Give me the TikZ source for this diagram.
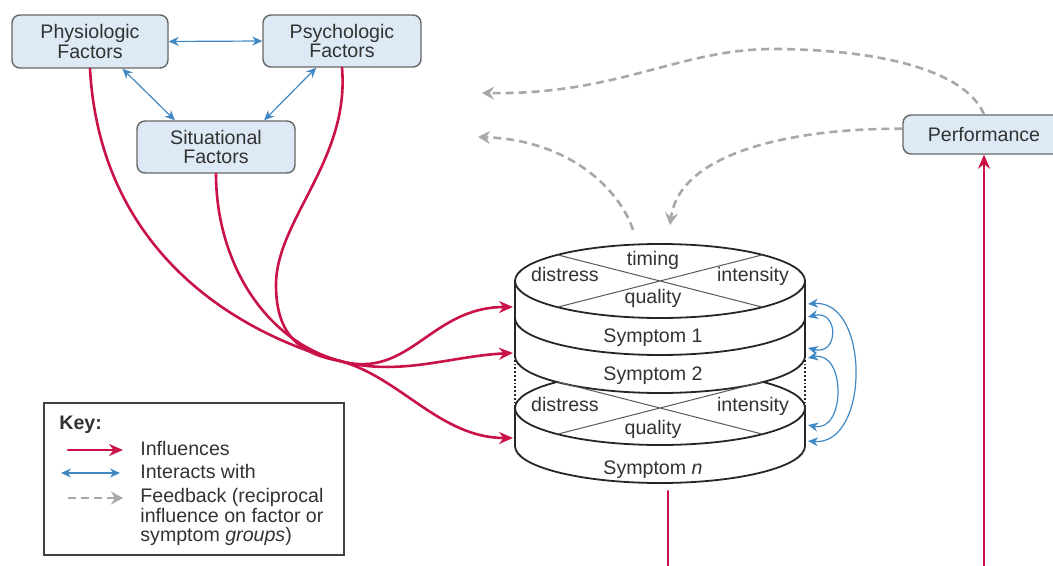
\documentclass[tikz,border=0pt]{standalone}
\usepackage{fontspec}
\setmainfont{Liberation Sans}
\usetikzlibrary{arrows.meta}

\definecolor{inflred}{RGB}{200,18,72}
\definecolor{interblue}{RGB}{64,136,196}
\definecolor{fbgray}{RGB}{168,168,168}
\definecolor{boxblue}{RGB}{221,234,245}
\definecolor{txtgray}{RGB}{50,50,50}
\newcommand{\dfont}{\fontsize{9.8}{9.7}\selectfont}

\tikzset{
  factor/.style={draw=black!60, line width=0.7pt, fill=boxblue, rounded corners=4pt, align=center, text=txtgray, font=\dfont, inner sep=1pt},
  influ/.style={inflred, line width=1.3pt, line cap=round},
  influence/.style={influ, -{Stealth[length=7pt,width=6pt]}},
  interact/.style={interblue, line width=0.6pt, {Stealth[length=5pt,width=4.5pt]}-{Stealth[length=5pt,width=4.5pt]}},
  feedback/.style={fbgray, line width=1.3pt, dash pattern=on 4pt off 2.5pt, -{Stealth[length=6pt,width=6.5pt,inset=2pt]}},
  lbl/.style={text=txtgray, font=\dfont, inner sep=0pt, text height=7pt, text depth=2pt},
  cylline/.style={black!85, line width=0.9pt},
  chord/.style={black!65, line width=0.5pt},
}

\begin{document}
\begin{tikzpicture}[x=0.5pt, y=0.5pt]
\clip (0,0) rectangle (1053,-566);

% factor boxes
\node (phys) at (90,-41.5) [factor, minimum width=78pt, minimum height=26.5pt] {Physiologic\\Factors};
\node (psych) at (342,-41) [factor, minimum width=79pt, minimum height=26pt] {Psychologic\\Factors};
\node (situ) at (216,-147) [factor, minimum width=79pt, minimum height=26pt] {Situational\\Factors};
\node (perf) at (984,-134.5) [factor, minimum width=81pt, minimum height=19.5pt] {Performance};

% interactions between factors
\draw[interact] (phys.east) -- (psych.west);
\draw[interact] (phys.-40) -- (situ.147);
\draw[interact] (psych.-134) -- (situ.29);

% symptom stack
\draw[cylline] (515,-281) -- (515,-356) (805,-281) -- (805,-356)
  (515,-408) -- (515,-446) (805,-408) -- (805,-446);
\draw[cylline, densely dotted] (515,-356) -- (515,-408) (805,-356) -- (805,-408);
\draw[cylline] (660,-281) ellipse [x radius=145, y radius=37];
\draw[cylline] (515,-318) arc [start angle=180, end angle=360, x radius=145, y radius=37];
\draw[cylline] (515,-356) arc [start angle=180, end angle=360, x radius=145, y radius=37];
\draw[cylline] (515,-408) arc [start angle=180, end angle=135, x radius=145, y radius=37]
  (805,-408) arc [start angle=0, end angle=45, x radius=145, y radius=37];
\draw[cylline] (515,-408) arc [start angle=180, end angle=360, x radius=145, y radius=37];
\draw[cylline] (515,-446) arc [start angle=180, end angle=360, x radius=145, y radius=37];
\draw[chord] (660,-281) +(135:145 and 37) -- +(-45:145 and 37) +(45:145 and 37) -- +(-135:145 and 37);
\draw[chord] (660,-408) +(135:145 and 37) -- +(-45:145 and 37) +(45:145 and 37) -- +(-135:145 and 37);

\node (tim1) at (653,-261) [lbl] {timing};
\node (dis1) at (565,-277) [lbl] {distress};
\node (int1) at (753,-277) [lbl] {intensity};
\node (qua1) at (653,-299) [lbl] {quality};
\node (sym1) at (653,-338) [lbl] {Symptom 1};
\node (sym2) at (653,-375) [lbl] {Symptom 2};
\node (dis2) at (565,-406) [lbl] {distress};
\node (int2) at (753,-406) [lbl] {intensity};
\node (qua2) at (653,-429) [lbl] {quality};
\node (symn) at (653,-469) [lbl] {Symptom \textit{n}};

% influences
\coordinate (mrg) at (340,-361);
\coordinate (in1) at (513,-307);
\coordinate (in2) at (513,-353);
\coordinate (in3) at (513,-438);
\draw[influ] (phys.south) .. controls (100,-250) and (234,-332) .. (mrg);
\draw[influ] (situ.south) .. controls (216,-260) and (263,-340) .. (mrg);
\draw[influ] (psych.south) .. controls (350,-160) and (276,-220) .. (276,-285) .. controls (276,-335) and (300,-354) .. (mrg);
\draw[influence] (mrg) .. controls (410,-380) and (430,-307) .. (in1);
\draw[influence] (mrg) .. controls (400,-377) and (450,-356) .. (in2);
\draw[influence] (mrg) .. controls (400,-377) and (440,-438) .. (in3);

\coordinate (symout) at (668,-491);
\coordinate (low) at (668,-620);
\draw[influence] (symout) -- (low) -| (perf.south);

% interactions between symptoms
\coordinate (s1a) at (808,-304);
\coordinate (s1b) at (808,-317);
\coordinate (s2a) at (808,-348);
\coordinate (s2b) at (808,-358);
\coordinate (sna) at (808,-425);
\coordinate (snb) at (808,-441);
\draw[interact] (s1a) .. controls +(62,5) and +(62,-5) .. (snb);
\draw[interact] (s1b) .. controls +(31,8) and +(31,-8) .. (s2a);
\draw[interact] (s2b) .. controls +(38,8) and +(38,-8) .. (sna);

% feedback
\coordinate (cyltop) at (633,-230);
\coordinate (cylin) at (670,-225);
\coordinate (fbfac) at (482,-93);
\coordinate (fbsym) at (478,-137);
\draw[feedback] (perf.north) .. controls (965,-70) and (880,-50) .. (777,-49) .. controls (680,-48) and (620,-95) .. (fbfac);
\draw[feedback] (perf.176) .. controls (800,-128) and (680,-150) .. (cylin);
\draw[feedback] (cyltop) .. controls (620,-190) and (570,-140) .. (fbsym);

% key
\draw[black!75, line width=0.9pt] (44,-403) rectangle (344,-555);
\node (keyttl) at (59,-424) [lbl, anchor=west, font=\dfont\bfseries] {Key:};
\node (kinf) at (140,-450) [lbl, anchor=west] {Influences};
\node (kint) at (140,-473) [lbl, anchor=west] {Interacts with};
\node (kfb) at (140,-517) [anchor=west, align=left, inner sep=0pt, text=txtgray, font=\dfont] {Feedback (reciprocal\\influence on factor or\\symptom \textit{groups})};
\coordinate (ki) at (68,-450);
\coordinate (kb) at (61,-473);
\coordinate (kf) at (68,-498);
\draw[influence] (ki) -- ++(55,0);
\draw[interact] (kb) -- ++(59,0);
\draw[feedback] (kf) -- ++(55,0);
\end{tikzpicture}
\end{document}
